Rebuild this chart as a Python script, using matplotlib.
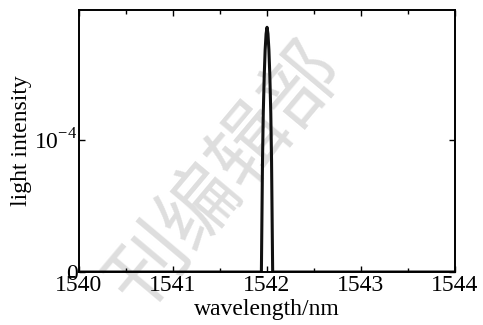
import matplotlib.pyplot as plt
from matplotlib.ticker import MultipleLocator

plt.rcParams['font.family'] = ['Liberation Serif', 'DejaVu Serif']
plt.rcParams['mathtext.fontset'] = 'custom'
plt.rcParams['mathtext.rm'] = 'Liberation Serif'

# peak (wavelength in nm, intensity in units of 1e-4)
wavelength = [1540.0, 1541.94, 1541.945, 1541.952, 1541.96, 1541.97, 1541.98,
              1541.99, 1542.0, 1542.01, 1542.02, 1542.03, 1542.04, 1542.048,
              1542.055, 1542.06, 1544.0]
intensity = [0.0, 0.0, 0.35, 0.85, 1.2, 1.48, 1.68, 1.8, 1.85, 1.8, 1.68,
             1.48, 1.2, 0.85, 0.35, 0.0, 0.0]
xticks = [1540, 1541, 1542, 1543, 1544]
yticks = [0, 1e-4]
ytick_labels = ['0', '10$^{-4}$']

fig = plt.figure(figsize=(4.83, 3.25), dpi=100)
# faint watermark behind the plot
fig.text(0.47, 0.46, '刊编辑部', fontsize=57, color='#dedede', rotation=50,
         ha='center', va='center', family=['Noto Sans CJK SC'], zorder=0)

ax = fig.add_axes([0.1636, 0.163, 0.7785, 0.806])
ax.set_zorder(1)
ax.set_facecolor('none')

ax.plot(wavelength, [v * 1e-4 for v in intensity], color='#111111', lw=2.2)

ax.set_xlim(1540, 1544)
ax.set_ylim(0, 1.98e-4)
ax.set_xticks(xticks)
ax.set_xticklabels([str(t) for t in xticks])
ax.xaxis.set_minor_locator(MultipleLocator(0.5))
ax.set_yticks(yticks)
ax.set_yticklabels(ytick_labels)

ax.tick_params(which='both', direction='in', top=True, right=True,
               labelsize=17, width=1)
ax.tick_params(axis='x', pad=2)
ax.tick_params(axis='y', pad=1)
ax.tick_params(which='major', length=4)
ax.tick_params(which='minor', length=3)
for s in ax.spines.values():
    s.set_linewidth(1.4)

ax.set_xlabel('wavelength/nm', fontsize=17, labelpad=2)
ax.set_ylabel('light intensity', fontsize=17, labelpad=2)

fig.savefig('out.png', dpi=100)
